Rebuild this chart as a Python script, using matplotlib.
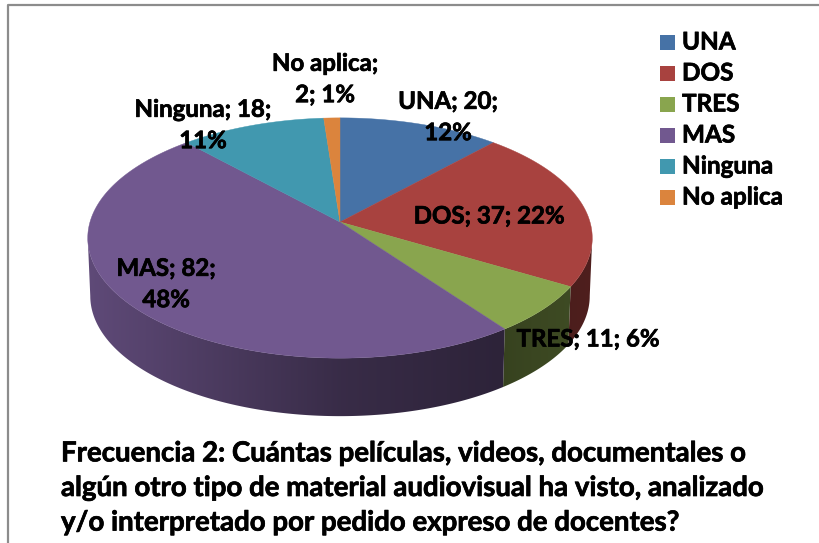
import numpy as np
import matplotlib
matplotlib.use('Agg')
import matplotlib.pyplot as plt
import matplotlib.patheffects as pe
from matplotlib.colors import to_rgb
from matplotlib.patches import Polygon, Rectangle

categories = ['UNA', 'DOS', 'TRES', 'MAS', 'Ninguna', 'No aplica']
values = [20, 37, 11, 82, 18, 2]
colors = ['#4672a6', '#a8423f', '#89a54e', '#71588f', '#4198af', '#db843d']
title = ('Frecuencia 2: Cuántas películas, videos, documentales o\n'
         'algún otro tipo de material audiovisual ha visto, analizado\n'
         'y/o interpretado por pedido expreso de docentes?')

# label text wrapping and centre of each label, in pixels
label_formats = ['{c}; {v};\n{p}%', '{c}; {v}; {p}%', '{c}; {v}; {p}%',
                 '{c}; {v};\n{p}%', '{c}; {v};\n{p}%', '{c};\n{v}; {p}%']
label_pos = [(448, 117), (489, 216), (588, 339), (166, 284), (203, 125), (325, 79)]

# perspective of the pie, worked out from the edges of the picture
CX, CY = 340, 222
RX, RY, TILT = 250, 118, 0.1333
DEPTH = 58

plt.rcParams['font.family'] = ['Lato', 'DejaVu Sans']

# thickens the text a bit, Lato bold is lighter than the original font
heavy = [pe.withStroke(linewidth=0.5, foreground='black')]


def project(theta):
    # theta is clockwise from the top of the pie
    u, v = np.sin(theta), np.cos(theta)
    w = 1 + TILT * v
    return CX + RX * u / w, CY - RY * v / w


def wall_shade(x):
    return np.interp(x, [87, 340, 500, 592], [0.84, 0.50, 0.40, 0.47])


fig = plt.figure(figsize=(8.19, 5.43), dpi=100)
ax = fig.add_axes([0, 0, 1, 1])

# frame of the pasted picture
ax.plot([8, 8, 819], [543, 5, 5], color='#8c8c8c', lw=1.6)

fractions = np.array(values) / sum(values)
edges = np.concatenate([[0], np.cumsum(fractions)]) * 2 * np.pi
xs = np.arange(819)

# only the front of the wall shows, between the widest points of the pie
dense = np.linspace(0, 2 * np.pi, 3600)
dense_x = project(dense)[0]
front_start, front_end = dense[np.argmax(dense_x)], dense[np.argmin(dense_x)]

for i, col in enumerate(colors):
    start = max(edges[i], front_start)
    end = min(edges[i + 1], front_end)
    if end <= start:
        continue
    th = np.linspace(start, end, 200)
    x, y = project(th)
    x2 = CX + (x - CX) * 0.99
    y2 = y + DEPTH
    outline = Polygon(np.c_[np.r_[x, x2[::-1]], np.r_[y, y2[::-1]]], closed=True,
                      transform=ax.transData, fc='none', ec='none')
    ax.add_patch(outline)
    grad = np.outer(wall_shade(xs), to_rgb(col)).reshape(1, 819, 3)
    img = ax.imshow(grad, extent=(0, 819, 543, 0), aspect='auto', zorder=2,
                    interpolation='nearest')
    img.set_clip_path(outline)

# top of the pie
for i, col in enumerate(colors):
    th = np.linspace(edges[i], edges[i + 1], 200)
    x, y = project(th)
    ax.fill(np.r_[CX, x], np.r_[CY, y], color=col, lw=0.3, zorder=3)

# data labels
for i, cat in enumerate(categories):
    pct = round(100 * values[i] / sum(values))
    txt = label_formats[i].format(c=cat, v=values[i], p=pct)
    ax.text(label_pos[i][0], label_pos[i][1], txt, ha='center', va='center',
            fontsize=17.3, fontweight='bold', color='black', linespacing=1.44,
            zorder=5, path_effects=heavy)

# legend
for i, cat in enumerate(categories):
    yc = 42 + 31 * i
    ax.add_patch(Rectangle((660, yc - 7.5), 15, 15, color=colors[i], lw=0, zorder=5))
    ax.text(682, yc, cat, ha='left', va='center', fontsize=17.5, fontweight='bold',
            color='black', path_effects=heavy)

ax.text(61, 488, title, ha='left', va='center', fontsize=19.9,
        fontweight='bold', color='black', linespacing=1.41, path_effects=heavy)

ax.set_xlim(0, 819)
ax.set_ylim(543, 0)
ax.axis('off')

fig.savefig('out.png', dpi=100)
